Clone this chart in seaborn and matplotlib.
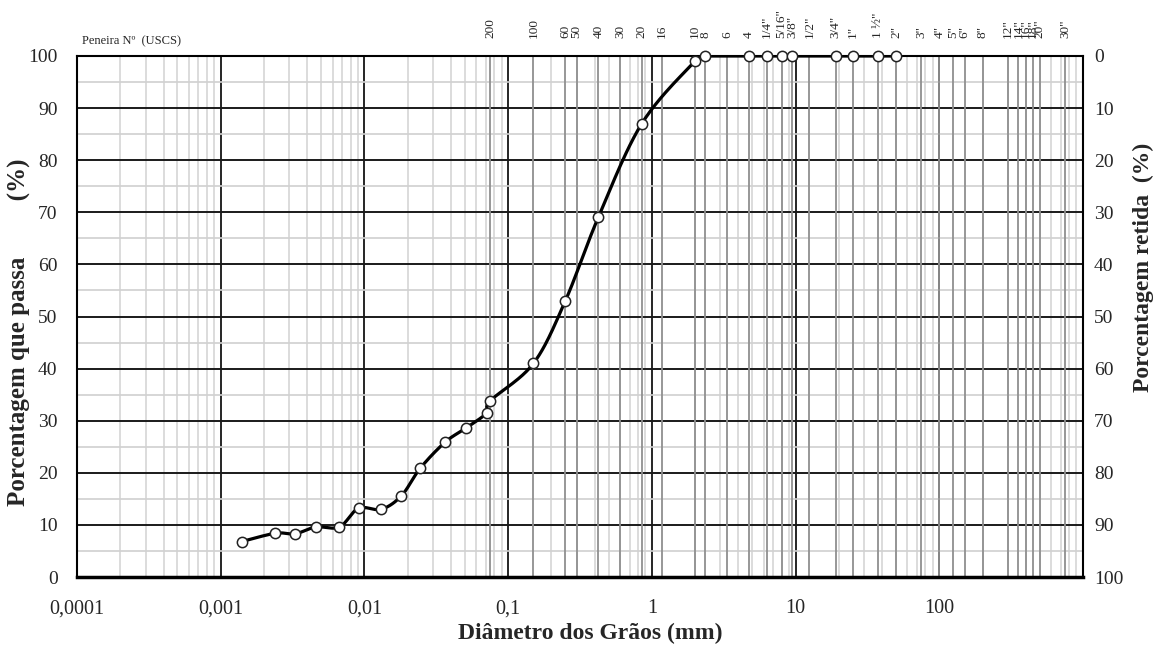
import numpy as np
import pandas as pd
import matplotlib
matplotlib.use("Agg")
import matplotlib.pyplot as plt
import seaborn as sns
from matplotlib.ticker import LogLocator, MultipleLocator, FixedLocator, NullLocator, NullFormatter

# ---------------- data ----------------
diam_mm = [0.0014, 0.0024, 0.0033, 0.0046, 0.0067, 0.0091, 0.0131, 0.0181, 0.0245,
           0.0365, 0.051, 0.0710, 0.075, 0.15, 0.25, 0.425, 0.85, 2.0, 2.36,
           4.75, 6.3, 8.0, 9.5, 19.0, 25.0, 37.5, 50.0]
passing_pct = [6.8, 8.4, 8.3, 9.6, 9.6, 13.2, 13.0, 15.6, 20.9,
               25.9, 28.6, 31.5, 33.8, 41.0, 53.0, 69.1, 87.0, 99.0, 100.0,
               100.0, 100.0, 100.0, 100.0, 100.0, 100.0, 100.0, 100.0]

sieve_mm = [0.075, 0.15, 0.25, 0.3, 0.425, 0.6, 0.85, 1.18, 2.0, 2.36, 3.35, 4.75,
            6.3, 8.0, 9.5, 12.5, 19.0, 25.0, 37.5, 50.0, 75.0, 100.0, 125.0, 150.0,
            200.0, 300.0, 355.0, 400.0, 450.0, 500.0, 750.0]
sieve_labels = ["200", "100", "60", "50", "40", "30", "20", "16", "10", "8", "6", "4",
                '1/4"', '5/16"', '3/8"', '1/2"', '3/4"', '1"', '1 ½"', '2"', '3"', '4"', '5"', '6"',
                '8"', '12"', '14"', '16"', '18"', '20"', '30"']

x_tick_vals = [0.0001, 0.001, 0.01, 0.1, 1, 10, 100]
x_tick_labels = ["0,0001", "0,001", "0,01", "0,1", "1", "10", "100"]
y_ticks = [0, 10, 20, 30, 40, 50, 60, 70, 80, 90, 100]


# spreadsheet-style smoothed line (cubic Bezier, tangents from neighbours) for display
def smooth_line(x, y, sx=143.8, sy=5.21, n=24):
    px = np.log10(np.asarray(x, float)) * sx
    py = np.asarray(y, float) * sy
    P = np.column_stack([px, py])
    m = len(P)
    out = []
    for i in range(m - 1):
        p0, p3 = P[i], P[i + 1]
        prev_ = P[i - 1] if i > 0 else P[i]
        next_ = P[i + 2] if i + 2 < m else P[i + 1]
        c1 = p0 + (p3 - prev_) / 6.0
        c2 = p3 - (next_ - p0) / 6.0
        t = np.linspace(0, 1, n, endpoint=(i == m - 2))[:, None]
        seg = ((1 - t) ** 3) * p0 + 3 * ((1 - t) ** 2) * t * c1 + 3 * (1 - t) * t ** 2 * c2 + t ** 3 * p3
        out.append(seg)
    out = np.vstack(out)
    return 10 ** (out[:, 0] / sx), np.clip(out[:, 1] / sy, 0, 100)


cx, cy = smooth_line(diam_mm, passing_pct)
curve = pd.DataFrame({"d": cx, "p": cy})
points = pd.DataFrame({"d": diam_mm, "p": passing_pct})

# ---------------- figure ----------------
sns.set_theme(style="white")
plt.rcParams["font.family"] = ["Liberation Serif", "DejaVu Serif"]

fig = plt.figure(figsize=(11.65, 6.5), dpi=100)
ax = fig.add_axes([77 / 1165, 1 - 577 / 650, (1083 - 77) / 1165, (577 - 56) / 650])
ax.set_xscale("log")
ax.set_xlim(1e-4, 1e3)
ax.set_ylim(0, 100)

# grid
ax.xaxis.set_minor_locator(LogLocator(base=10, subs=np.arange(2, 10), numticks=20))
ax.yaxis.set_minor_locator(MultipleLocator(5))
ax.grid(which="minor", axis="x", color="#d6d6d6", lw=1.2, zorder=0)
ax.grid(which="minor", axis="y", color="#d0d0d0", lw=1.2, zorder=0)
for s in sieve_mm:
    ax.axvline(s, color="#8f8f8f", lw=1.3, zorder=1)
ax.grid(which="major", axis="x", color="black", lw=1.2, zorder=2)
ax.grid(which="major", axis="y", color="#1a1a1a", lw=1.4, zorder=2)
ax.set_axisbelow(True)

sns.lineplot(data=curve, x="d", y="p", sort=False, color="black", lw=2.3, ax=ax, zorder=4)
sns.scatterplot(data=points, x="d", y="p", s=55, facecolor="white", edgecolor="#222222",
                linewidth=1.1, ax=ax, zorder=5, clip_on=False)

ax.set_xticks(x_tick_vals)
ax.set_xticklabels(x_tick_labels, fontsize=14.5)
ax.xaxis.set_minor_formatter(NullFormatter())
ax.set_yticks(y_ticks)
ax.set_yticklabels([str(v) for v in y_ticks], fontsize=14)
ax.tick_params(axis="x", which="both", length=0, pad=16)
ax.tick_params(axis="y", which="both", length=0, pad=14)
ax.set_xlabel("")
ax.set_ylabel("")
for sp in ax.spines.values():
    sp.set_color("black")
    sp.set_linewidth(1.5)
ax.spines["bottom"].set_linewidth(2.5)

# right axis (retained)
axr = ax.twinx()
axr.set_ylim(100, 0)
axr.set_yticks(y_ticks)
axr.set_yticklabels([str(v) for v in y_ticks], fontsize=14)
axr.tick_params(axis="y", length=0, pad=8)
axr.grid(False)
for sp in axr.spines.values():
    sp.set_visible(False)

# top axis (sieve numbers)
axt = ax.twiny()
axt.set_xscale("log")
axt.set_xlim(1e-4, 1e3)
axt.xaxis.set_major_locator(FixedLocator(sieve_mm))
axt.xaxis.set_minor_locator(NullLocator())
axt.set_xticklabels(sieve_labels, rotation=90, fontsize=9.5)
axt.tick_params(axis="x", length=0, pad=13)
axt.grid(False)
for sp in axt.spines.values():
    sp.set_visible(False)

# axis titles
fig.text(82 / 1165, 1 - 44 / 650, "Peneira Nº  (USCS)", fontsize=9, ha="left", va="baseline")
fig.text(590 / 1165, 1 - 633 / 650, "Diâmetro dos Grãos (mm)", fontsize=17, fontweight="bold",
         ha="center", va="center")
fig.text(19 / 1165, 1 - 332 / 650, "Porcentagem que passa         (%)", fontsize=18, fontweight="bold",
         rotation=90, ha="center", va="center")
fig.text(1143 / 1165, 1 - 267 / 650, "Porcentagem retida  (%)", fontsize=17, fontweight="bold",
         rotation=90, ha="center", va="center")

fig.savefig("out.png", dpi=100)
